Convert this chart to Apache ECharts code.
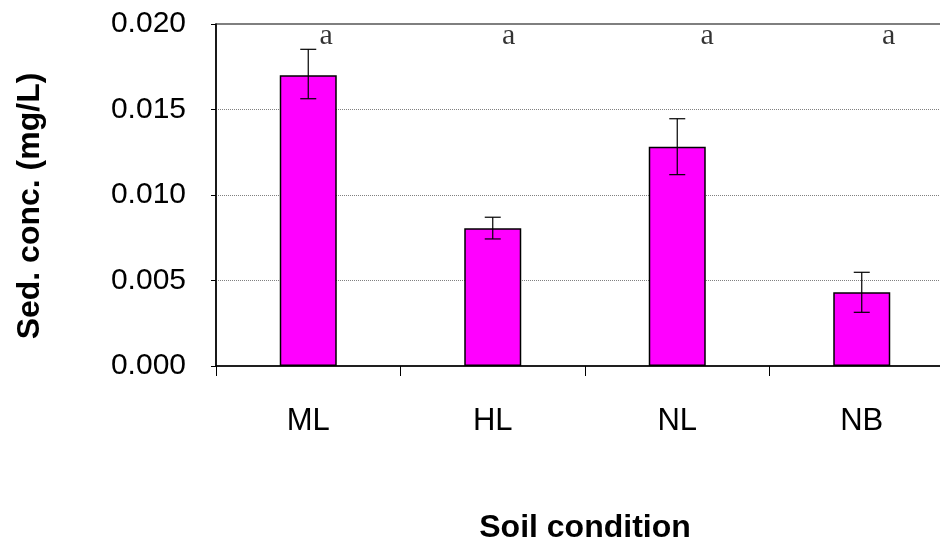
<!DOCTYPE html>
<html>
<head>
<meta charset="utf-8">
<script src="https://cdn.jsdelivr.net/npm/echarts@6/dist/echarts.min.js"></script>
<style>html,body{margin:0;padding:0;background:#fff;}#c{width:940px;height:541px;}</style>
</head>
<body>
<div id="c"></div>
<script>
var categories = ['ML', 'HL', 'NL', 'NB'];
var means = [0.0170, 0.00805, 0.01282, 0.00431];
var errLow = [0.01563, 0.00743, 0.01119, 0.00314];
var errHigh = [0.01852, 0.00870, 0.01446, 0.00548];
var letters = ['a', 'a', 'a', 'a'];
var letterY = [0.0193, 0.0193, 0.0193, 0.0193];
var letterShift = [18, 16, 30, 27];
var yTicks = [0, 0.005, 0.010, 0.015, 0.020];

var chart = echarts.init(document.getElementById('c'), null, {renderer: 'canvas'});
var errData = categories.map(function (c, i) { return [i, errLow[i], errHigh[i]]; });
var letterData = categories.map(function (c, i) {
  return {value: [i, letterY[i]], label: {formatter: letters[i], offset: [letterShift[i], 0]}};
});

chart.setOption({
  animation: false,
  grid: {left: 216, top: 24, bottom: 175, right: -14, outerBoundsMode: 'none', containLabel: false,
    show: true, borderColor: '#000', borderWidth: 1.2, backgroundColor: 'transparent'},
  xAxis: {
    type: 'category',
    data: categories,
    name: 'Soil condition',
    nameLocation: 'middle',
    nameGap: 146,
    nameTextStyle: {fontFamily: 'Liberation Sans', fontWeight: 'bold', fontSize: 32, color: '#000'},
    axisLine: {lineStyle: {color: '#000', width: 1.5}},
    axisTick: {show: true, length: 10, lineStyle: {color: '#000', width: 1}},
    axisLabel: {fontFamily: 'Liberation Sans', fontSize: 31, color: '#000', margin: 40},
    splitLine: {show: false}
  },
  yAxis: {
    type: 'value',
    min: 0, max: 0.020, interval: 0.005,
    name: 'Sed. conc. (mg/L)',
    nameLocation: 'middle',
    nameGap: 170,
    nameRotate: 90,
    nameTextStyle: {fontFamily: 'Liberation Sans', fontWeight: 'bold', fontSize: 32, color: '#000', padding: [0, 22, 0, 0]},
    axisLine: {show: true, lineStyle: {color: '#000', width: 1.5}},
    axisTick: {show: true, length: 5, lineStyle: {color: '#000', width: 1}},
    axisLabel: {fontFamily: 'Liberation Sans', fontSize: 30, color: '#000', margin: 30,
      formatter: function (v) { return v.toFixed(3); }},
    splitLine: {show: true, lineStyle: {color: '#808080', type: 'dotted', width: 1}}
  },
  series: [
    {
      type: 'bar',
      data: means,
      barWidth: 57,
      itemStyle: {color: '#FF00FF', borderColor: '#000', borderWidth: 1.5},
      z: 2
    },
    {
      type: 'custom',
      data: errData,
      z: 3,
      renderItem: function (params, api) {
        var x = api.value(0);
        var lo = api.coord([x, api.value(1)]);
        var hi = api.coord([x, api.value(2)]);
        var w = 8;
        var st = {stroke: '#000', lineWidth: 1.2};
        return {
          type: 'group',
          children: [
            {type: 'line', shape: {x1: lo[0], y1: lo[1], x2: hi[0], y2: hi[1]}, style: st},
            {type: 'line', shape: {x1: hi[0] - w, y1: hi[1], x2: hi[0] + w, y2: hi[1]}, style: st},
            {type: 'line', shape: {x1: lo[0] - w, y1: lo[1], x2: lo[0] + w, y2: lo[1]}, style: st}
          ]
        };
      }
    },
    {
      type: 'scatter',
      data: letterData,
      symbolSize: 0,
      z: 4,
      label: {show: true, position: 'inside', fontFamily: 'Liberation Serif', fontSize: 30, color: '#000'}
    }
  ]
});
</script>
</body>
</html>
